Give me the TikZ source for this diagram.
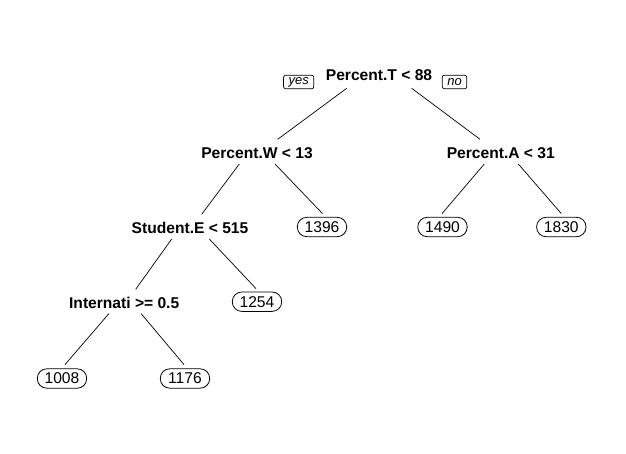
\documentclass[tikz,border=0pt]{standalone}
\usepackage{fontspec}
\setmainfont{Liberation Sans}
\usetikzlibrary{calc}
\tikzset{
  split/.style={font=\fontsize{15.6}{18}\selectfont\bfseries, inner sep=0pt, anchor=base},
  leaf/.style={draw, rounded corners=9.5pt, font=\fontsize{15.6}{18}\selectfont, minimum width=49.4pt, minimum height=19.4pt, inner sep=0pt, line width=0.8pt},
  yn/.style={draw, rounded corners=2pt, font=\fontsize{13}{15}\selectfont\itshape, minimum height=13.4pt, inner xsep=5pt, inner ysep=0pt, line width=0.7pt},
  branch/.style={line width=0.7pt}
}
\begin{document}
\begin{tikzpicture}[x=1pt,y=1pt]
\useasboundingbox (0,0) rectangle (626,-454);
% split nodes
\node[split] (root) at (379,-80.7) {Percent.T < 88};
\node[split] (pw) at (257,-158.3) {Percent.W < 13};
\node[split] (pa) at (500.8,-158.3) {Percent.A < 31};
\node[split] (se) at (190,-233.3) {Student.E < 515};
\node[split] (in) at (124.2,-308.3) {Internati >= 0.5};
% yes / no
\node[yn] (yes) at (298.7,-82) {yes};
\node[yn] (no) at (454.5,-82) {no};
% leaves
\node[leaf] (l1396) at (322,-227) {1396};
\node[leaf] (l1490) at (442.5,-227) {1490};
\node[leaf] (l1830) at (561.3,-227) {1830};
\node[leaf] (l1254) at (257,-301.7) {1254};
\node[leaf] (l1008) at (62,-378.5) {1008};
\node[leaf] (l1176) at (185,-378.5) {1176};
% branches
\draw[branch] ($(root.base)+(-32.3,-7.6)$) -- ($(pw.base)+(20.7,19)$);
\draw[branch] ($(root.base)+(32.7,-7.6)$) -- ($(pa.base)+(-20.8,19)$);
\draw[branch] ($(pw.base)+(-17.7,-5.7)$) -- ($(se.base)+(11.7,19)$);
\draw[branch] ($(pw.base)+(18,-5.7)$) -- ($(l1396.north)+(0.5,3.3)$);
\draw[branch] ($(pa.base)+(-16.5,-5.7)$) -- ($(l1490.north)+(-0.5,3.3)$);
\draw[branch] ($(pa.base)+(17.5,-5.7)$) -- ($(l1830.north)+(0,3.3)$);
\draw[branch] ($(se.base)+(-18.3,-5.7)$) -- ($(in.base)+(11.5,19)$);
\draw[branch] ($(se.base)+(19.3,-5.7)$) -- ($(l1254.north)+(-1,3)$);
\draw[branch] ($(in.base)+(-15.2,-5.2)$) -- ($(l1008.north)+(3,3.8)$);
\draw[branch] ($(in.base)+(16.8,-5.2)$) -- ($(l1176.north)+(-1,3.8)$);
\end{tikzpicture}
\end{document}
